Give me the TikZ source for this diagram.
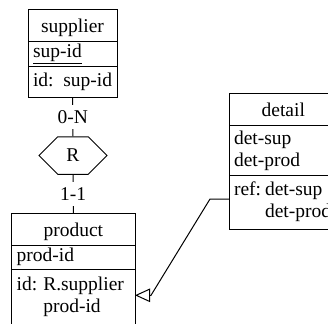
\documentclass[tikz,border=0pt]{standalone}
\usepackage{fontspec}
\setmainfont{Liberation Serif}
\usetikzlibrary{arrows.meta, shapes.symbols, calc}
\tikzset{
  every picture/.style={x=1pt, y=-1pt, line width=1pt, font=\fontsize{19.5}{22}\selectfont},
  part/.style={draw, anchor=north west, outer sep=0pt, inner xsep=5pt, inner ysep=0pt, text width=#1, align=left},
  head/.style={part=#1, align=center, text height=18pt, text depth=4pt},
  card/.style={fill=white, inner sep=5.5pt},
  rel/.style={draw, signal, signal to=west and east, signal pointer angle=90, minimum width=68pt, minimum height=37.5pt, inner sep=0pt},
  isa/.style={-{Triangle[open, length=15pt, width=13.5pt]}},
}
\begin{document}
\begin{tikzpicture}
  \useasboundingbox (0,0) rectangle (328,323);
  \clip (0,0) rectangle (328,323);
  % supplier
  \node[head=79pt, minimum height=32.4pt] (sp-head) at (28,9.3) {supplier};
  \node[part=79pt, minimum height=25pt] (sp-att) at (sp-head.south west) {\underline{sup-id}};
  \node[part=79pt, minimum height=30.6pt] (sp-id) at (sp-att.south west) {\mbox{id: sup-id}};
  % relationship
  \node[rel] (R) at (73,155.5) {R};
  % product
  \node[head=113.3pt, minimum height=31.7pt] (pr-head) at (11.7,213.3) {product};
  \node[part=113.3pt, minimum height=24.3pt] (pr-att) at (pr-head.south west) {prod-id};
  \node[part=113.3pt, minimum height=56pt] (pr-id) at (pr-att.south west)
    {\begin{tabular}{@{}l@{\hspace{6pt}}l@{}}id: & R.supplier\\ & prod-id\end{tabular}};
  % detail
  \node[head=98.6pt, minimum height=31pt] (dt-head) at (229,94) {detail};
  \node[part=98.6pt, minimum height=50.7pt] (dt-att) at (dt-head.south west) {det-sup\\det-prod};
  \node[part=98.6pt, minimum height=53.6pt] (dt-ref) at (dt-att.south west)
    {\begin{tabular}{@{}l@{\hspace{4pt}}l@{}}ref: & det-sup\\ & det-prod\end{tabular}};
  % links
  \draw (sp-id.south) -- node[card] {0-N} (R.north);
  \draw (R.south) -- node[card] {1-1} (pr-head.north);
  \coordinate (tip) at ([yshift=2pt]pr-id.east);
  \draw[isa] ([yshift=3.5pt]dt-ref.west) -- ++(-19,0) -- ($(tip)+(16,0)$) -- (tip);
\end{tikzpicture}
\end{document}
